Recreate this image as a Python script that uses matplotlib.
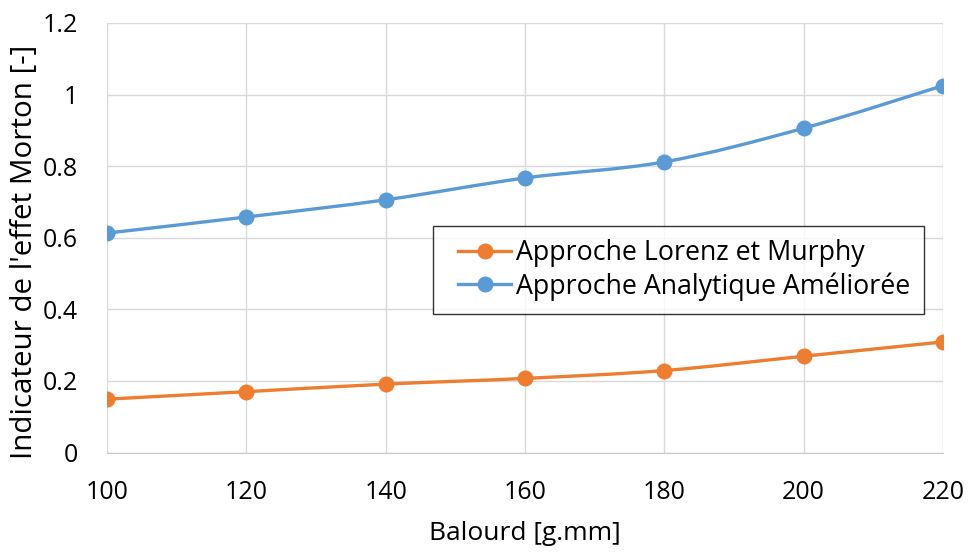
import numpy as np
import matplotlib
matplotlib.use("Agg")
import matplotlib.pyplot as plt
from matplotlib.path import Path
from matplotlib.patches import PathPatch
from matplotlib.lines import Line2D
from matplotlib.legend_handler import HandlerLine2D

balourd = [100, 120, 140, 160, 180, 200, 220]
lorenz_murphy = [0.149, 0.170, 0.191, 0.207, 0.229, 0.269, 0.309]
analytique = [0.613, 0.658, 0.706, 0.767, 0.812, 0.906, 1.025]
series_names = ["Approche Lorenz et Murphy", "Approche Analytique Améliorée"]
colors = ["#ED7D31", "#5B9BD5"]
yticks = [0, 0.2, 0.4, 0.6, 0.8, 1.0, 1.2]
ytick_labels = ["0", "0.2", "0.4", "0.6", "0.8", "1", "1.2"]
xticks = [100, 120, 140, 160, 180, 200, 220]

plt.rcParams['font.family'] = ['Open Sans', 'DejaVu Sans']

fig = plt.figure(figsize=(9.71, 5.54), dpi=100)
ax = fig.add_axes([107/971, 1-452.5/554, (943-107)/971, (452.5-23)/554])


def smooth_path(x, y, t=1/6):
    x = np.asarray(x, float); y = np.asarray(y, float)
    n = len(x)
    verts = [(x[0], y[0])]
    codes = [Path.MOVETO]
    for i in range(n - 1):
        x0, y0 = (x[i-1], y[i-1]) if i > 0 else (x[i], y[i])
        x3, y3 = (x[i+2], y[i+2]) if i + 2 < n else (x[i+1], y[i+1])
        c1 = (x[i] + (x[i+1] - x0) * t, y[i] + (y[i+1] - y0) * t)
        c2 = (x[i+1] - (x3 - x[i]) * t, y[i+1] - (y3 - y[i]) * t)
        verts += [c1, c2, (x[i+1], y[i+1])]
        codes += [Path.CURVE4] * 3
    return Path(verts, codes)


LW = 2.4
MS = 10.5
handles = []
for vals, col, name in zip([lorenz_murphy, analytique], colors, series_names):
    patch = PathPatch(smooth_path(balourd, vals), facecolor='none', edgecolor=col,
                      lw=LW, capstyle='round', zorder=3)
    ax.add_patch(patch)
    ax.plot(balourd, vals, linestyle='none', marker='o', markersize=MS,
            color=col, zorder=4)
    handles.append(Line2D([], [], color=col, lw=LW, marker='o', markersize=MS))


class ShiftedHandler(HandlerLine2D):
    def get_xdata(self, legend, xdescent, ydescent, width, height, fontsize):
        start = -xdescent + 0.45 * fontsize
        end = -xdescent + width
        return np.array([start, end]), np.array([(start + end) / 2])


ax.set_xlim(100, 220)
ax.set_ylim(0, 1.2)
ax.set_xticks(xticks)
ax.set_xticklabels([str(v) for v in xticks])
ax.set_yticks(yticks)
ax.set_yticklabels(ytick_labels)
ax.grid(True, color='#D9D9D9', lw=1)
ax.set_axisbelow(True)
for s in ['top', 'right', 'left']:
    ax.spines[s].set_visible(False)
ax.spines['bottom'].set_color('#C8C8C8')
ax.tick_params(length=0, labelsize=18, colors='black')
ax.tick_params(axis='x', pad=20)
ax.tick_params(axis='y', pad=21)

ax.set_xlabel("Balourd [g.mm]", fontsize=19, labelpad=11)
ax.set_ylabel("Indicateur de l'effet Morton [-]", fontsize=21.3)
ax.yaxis.set_label_coords((39 - 107) / 836, (452.5 - 251.5) / 429.5)

leg = fig.legend(handles, series_names, loc='upper left',
                 bbox_to_anchor=(433/971, 1-226/554), fontsize=19.3,
                 frameon=True, fancybox=False, edgecolor='black',
                 handlelength=2.4, handletextpad=0.2, borderpad=0.5,
                 labelspacing=0.18, borderaxespad=0,
                 handler_map={Line2D: ShiftedHandler()})
leg.get_frame().set_linewidth(1.0)

fig.savefig("out.png", dpi=100)
